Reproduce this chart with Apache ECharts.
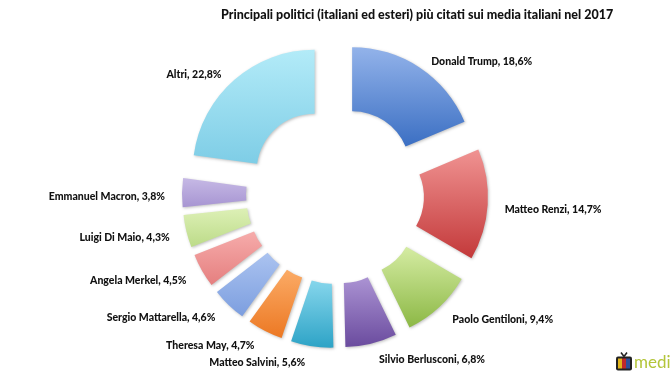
<!DOCTYPE html>
<html>
<head>
<meta charset="utf-8">
<script src="https://cdn.jsdelivr.net/npm/echarts@6/dist/echarts.min.js"></script>
<style>
html,body{margin:0;padding:0;background:#fff}
#chart{width:670px;height:377px}
</style>
</head>
<body>
<div id="chart"></div>
<script>
// politici più citati 2017 (percentuali)
var names = ['Donald Trump', 'Matteo Renzi', 'Paolo Gentiloni', 'Silvio Berlusconi', 'Matteo Salvini',
  'Theresa May', 'Sergio Mattarella', 'Angela Merkel', 'Luigi Di Maio', 'Emmanuel Macron', 'Altri'];
var values = [18.6, 14.7, 9.4, 6.8, 5.6, 4.7, 4.6, 4.5, 4.3, 3.8, 22.8];

var topColors = ['#93b3ea', '#f09392', '#d5eca3', '#ab93d3', '#86d6ec', '#fbab66',
  '#abc3f0', '#f6acab', '#ddf0b6', '#c6b9e5', '#b3ebf8'];
var bottomColors = ['#3b6fc3', '#c3393a', '#8cb845', '#6a4b9e', '#2da3c6', '#ec7823',
  '#7c9edf', '#e57f7f', '#bcdb88', '#a795d2', '#7ecde6'];

function drawChart(){
	var chart = echarts.init(document.querySelector('#chart'))
	var data = names.map(function(n, i){
		return {
			name: n,
			value: values[i],
			selected: true,
			itemStyle: {
				color: new echarts.graphic.LinearGradient(0, 0, 0, 1, [
					{offset: 0, color: topColors[i]},
					{offset: 1, color: bottomColors[i]}
				])
			}
		}
	})
	var option = {
    animation: false,
    title: {
        text: 'Principali politici (italiani ed esteri) più citati sui media italiani nel 2017',
        left: 216,
        top: 3,
        textStyle: {
            fontFamily: 'Lato',
            fontSize: 12.5,
            fontWeight: 900,
            color: '#111'
        }
    },
    series: [
        {
            name: 'Politici',
            type: 'pie',
            center: [335, 195],
            radius: [58, 122],
            startAngle: 90,
            selectedMode: 'multiple',
            selectedOffset: 31,
            avoidLabelOverlap: false,
            itemStyle: {
                shadowBlur: 3,
                shadowColor: 'rgba(0,0,0,0.25)',
                shadowOffsetX: 1,
                shadowOffsetY: 1
            },
            label: {
                position: 'outside',
                fontFamily: 'Lato',
                fontSize: 10.5,
                fontWeight: 900,
                color: '#111',
                formatter: function(p){
                    return p.name + ', ' + p.value.toFixed(1).replace('.', ',') + '%'
                }
            },
            labelLine: {
                show: false,
                length: 12,
                length2: 0
            },
            labelLayout: {dy: 4},
            emphasis: {scale: false},
            data: data
        }
    ],
    graphic: [
        {
            type: 'group',
            left: 616,
            top: 350,
            children: [
                {type: 'rect', shape: {x: 0, y: 4, width: 16, height: 14, r: 2}, style: {fill: '#222'}},
                {type: 'rect', shape: {x: 2, y: 6, width: 4, height: 10}, style: {fill: '#e2b51c'}},
                {type: 'rect', shape: {x: 6, y: 6, width: 4, height: 10}, style: {fill: '#c0282b'}},
                {type: 'rect', shape: {x: 10, y: 6, width: 4, height: 10}, style: {fill: '#2e4f9a'}},
                {type: 'line', shape: {x1: 5, y1: 0, x2: 8, y2: 4}, style: {stroke: '#222', lineWidth: 1.5}},
                {type: 'line', shape: {x1: 11, y1: 0, x2: 8, y2: 4}, style: {stroke: '#222', lineWidth: 1.5}},
                {type: 'text', x: 18, y: 2, style: {text: 'media', fontFamily: 'Lato', fontSize: 17, fill: '#b3c53a'}}
            ]
        }
    ]
};

	chart.setOption(option)
}

drawChart()
</script>
</body>
</html>
